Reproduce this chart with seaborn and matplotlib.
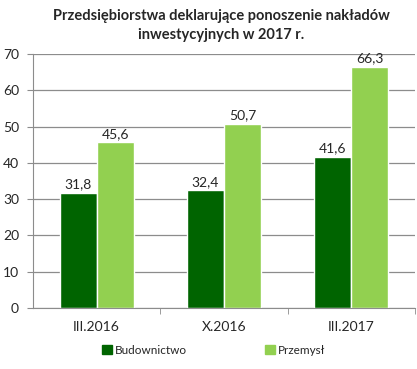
import matplotlib
matplotlib.use("Agg")
import matplotlib.pyplot as plt
import seaborn as sns
import pandas as pd
from matplotlib.patches import Patch

categories = ["III.2016", "X.2016", "III.2017"]
budownictwo = [31.8, 32.4, 41.6]
przemysl = [45.6, 50.7, 66.3]
series_names = ["Budownictwo", "Przemysł"]
colors = ["#006400", "#92d050"]
yticks = [0, 10, 20, 30, 40, 50, 60, 70]

df = pd.DataFrame({
    "cat": categories * 2,
    "val": budownictwo + przemysl,
    "series": [series_names[0]] * 3 + [series_names[1]] * 3,
})

sns.set_style("white")
plt.rcParams["font.family"] = ["Lato", "DejaVu Sans"]

fig = plt.figure(figsize=(4.17, 3.69), dpi=100)
ax = fig.add_axes([0.079, 0.165, 0.916, 0.689])
sns.barplot(data=df, x="cat", y="val", hue="series", palette=colors,
            width=0.58, ax=ax, legend=False, saturation=1)

ax.set_ylim(0, 70)
ax.set_yticks(yticks)
ax.set_xlim(-0.5, 2.5)
ax.yaxis.grid(True, color="#8c8c8c", linewidth=0.9)
ax.set_axisbelow(True)
ax.set_xlabel("")
ax.set_ylabel("")
for s in ["top", "right"]:
    ax.spines[s].set_visible(False)
for s in ["left", "bottom"]:
    ax.spines[s].set_color("#8c8c8c")
ax.tick_params(axis="y", labelsize=10, length=4, color="#8c8c8c", left=True, pad=6)
ax.tick_params(axis="x", labelsize=10, length=0, pad=9)
ax.set_xticks([0.5, 1.5, 2.5], minor=True)
ax.tick_params(axis="x", which="minor", length=4, color="#8c8c8c", bottom=True)

for cont in ax.containers:
    labels = [f"{v:.1f}".replace(".", ",") for v in cont.datavalues]
    ax.bar_label(cont, labels=labels, fontsize=10, padding=2)

fig.suptitle("Przedsiębiorstwa deklarujące ponoszenie nakładów\ninwestycyjnych w 2017 r.",
             fontsize=10.5, fontweight="bold", y=0.975, x=0.53, linespacing=1.4)

handles = [Patch(color=c) for c in colors]
fig.legend(handles, series_names, loc="center", bbox_to_anchor=(0.513, 0.05), ncol=2,
           frameon=False, fontsize=8.5, handlelength=0.8, handleheight=0.8,
           columnspacing=6.6, handletextpad=0.3)

fig.savefig("out.png", dpi=100)
